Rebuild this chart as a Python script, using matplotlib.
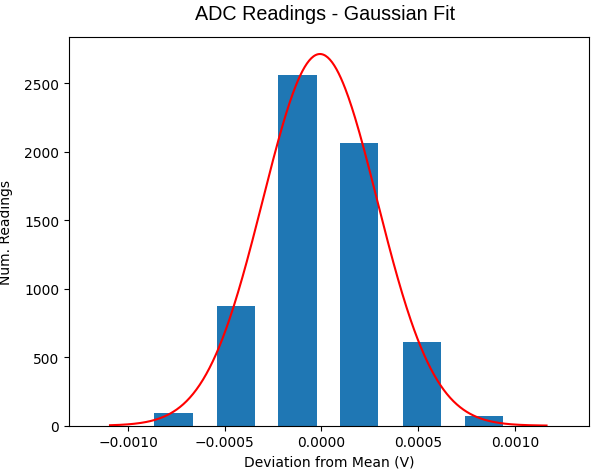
import numpy as np
import matplotlib
matplotlib.use("Agg")
import matplotlib.pyplot as plt

# Histogram bars (bin centres in V, counts)
bin_centers = [-0.000766, -0.000443, -0.000124, 0.000195, 0.000519, 0.000839]
counts = [93, 876, 2563, 2062, 613, 73]
bar_width = 0.000198

# Gaussian fit parameters
fit_amplitude = 2714
fit_mean = -0.000008
fit_sigma = 0.000296
fit_x_min = -0.001094
fit_x_max = 0.001164

x_ticks = [-0.0010, -0.0005, 0.0000, 0.0005, 0.0010]
x_tick_labels = ["\u22120.0010", "\u22120.0005", "0.0000", "0.0005", "0.0010"]
y_ticks = [0, 500, 1000, 1500, 2000, 2500]

fig = plt.figure(figsize=(5.94, 4.77), dpi=100)
ax = fig.add_axes([0.1162, 0.1055, 0.8758, 0.8142])

ax.bar(bin_centers, counts, width=bar_width, color="#1f77b4")

xf = np.linspace(fit_x_min, fit_x_max, 400)
yf = fit_amplitude * np.exp(-((xf - fit_mean) ** 2) / (2 * fit_sigma ** 2))
ax.plot(xf, yf, color="red", linewidth=1.5)

ax.set_xlim(-0.001306, 0.001385)
ax.set_ylim(0, 2836)
ax.set_xticks(x_ticks)
ax.set_xticklabels(x_tick_labels)
ax.set_yticks(y_ticks)
ax.tick_params(labelsize=10)

ax.set_title("ADC Readings - Gaussian Fit", fontsize=14.2, pad=13,
             family="Liberation Sans", x=0.493)
ax.set_xlabel("Deviation from Mean (V)", fontsize=10)
ax.set_ylabel("Num. Readings", fontsize=10)
ax.yaxis.set_label_coords(-0.1076, 0.5)

fig.savefig("out.png", dpi=100)
